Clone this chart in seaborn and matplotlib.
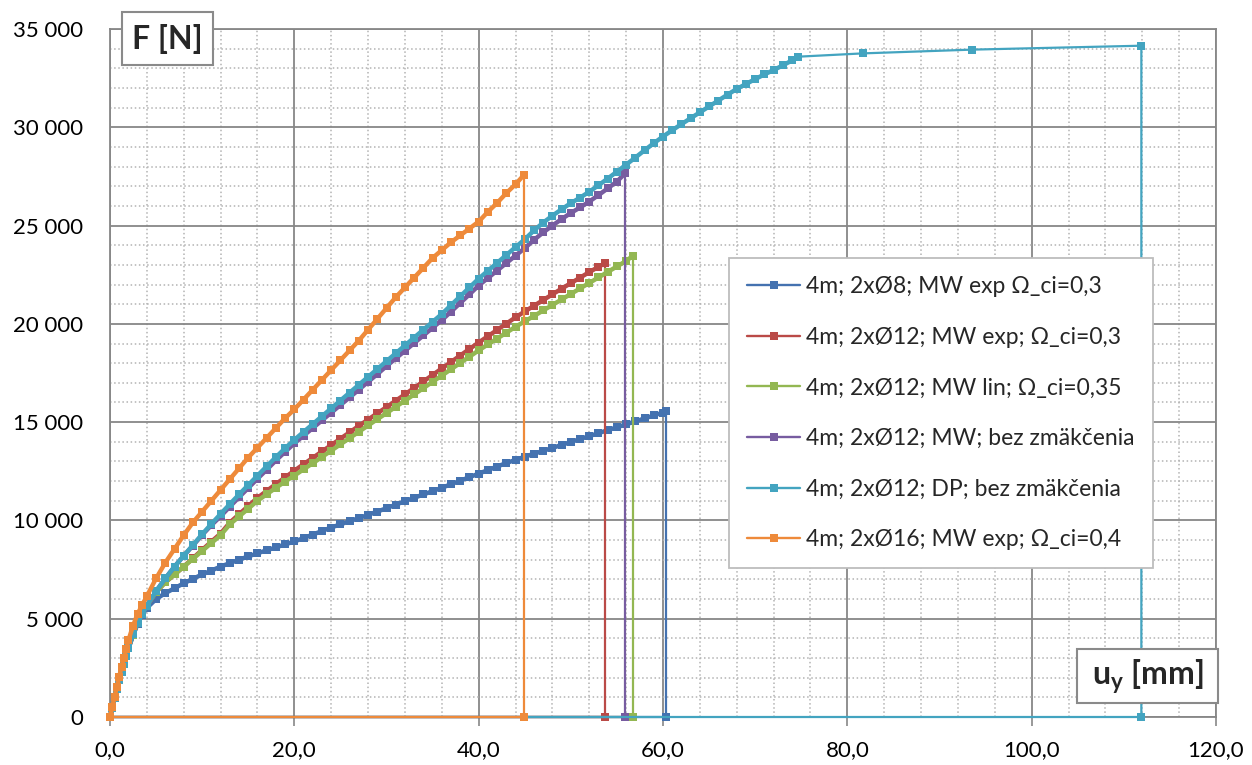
import matplotlib
matplotlib.use("Agg")
import matplotlib.pyplot as plt
import seaborn as sns
import pandas as pd
from matplotlib.lines import Line2D
from matplotlib.patches import Rectangle
from matplotlib.ticker import FixedLocator, FixedFormatter, MultipleLocator

# ---------------- data ----------------
labels = [
    "4m; 2xØ8; MW exp Ω_ci=0,3",
    "4m; 2xØ12; MW exp; Ω_ci=0,3",
    "4m; 2xØ12; MW lin; Ω_ci=0,35",
    "4m; 2xØ12; MW; bez zmäkčenia",
    "4m; 2xØ12; DP; bez zmäkčenia",
    "4m; 2xØ16; MW exp; Ω_ci=0,4",
]
colors = ["#4472B0", "#BA4A47", "#93B752", "#775CA0", "#43A4C0", "#EE8A3A"]

# displacement positions (mm) at which the curves were read
u_grid = [0, 0.25, 0.5, 0.75, 1, 1.25, 1.5, 1.75, 2, 2.5, 3, 3.5] + list(range(4, 75))

# 2xØ8 MW exp
tail_b8 = [60.3]
F_b8 = [0, 480, 960, 1420, 1870, 2300, 2720, 3120, 3500, 4150, 4750, 5200,
        5550, 6000, 6300, 6550, 6800, 7030, 7250, 7450, 7650, 7830, 8000, 8170,
        8330, 8480, 8630, 8780, 8930, 9100, 9280, 9460, 9640, 9800, 9960, 10120,
        10280, 10450, 10620, 10800, 10980, 11150, 11320, 11490, 11660, 11840,
        12020, 12200, 12380, 12560, 12740, 12920, 13080, 13240, 13390, 13540,
        13690, 13840, 13990, 14140, 14290, 14440, 14590, 14740, 14890, 15040,
        15190, 15340, 15490, 15580]

# 2xØ12 MW exp
tail_r12 = [53.7]
F_r12 = [0, 480, 960, 1420, 1870, 2300, 2720, 3120, 3500, 4180, 4780, 5280,
         5650, 6350, 6850, 7250, 7650, 8080, 8500, 8920, 9330, 9890, 10310,
         10730, 11150, 11500, 11850, 12190, 12530, 12860, 13180, 13510, 13830,
         14160, 14480, 14810, 15130, 15450, 15760, 16090, 16410, 16740, 17070,
         17400, 17730, 18060, 18390, 18720, 19050, 19370, 19690, 20010, 20330,
         20630, 20920, 21210, 21500, 21790, 22070, 22350, 22630, 22900, 23080]

# 2xØ12 MW lin
tail_g12 = [56.7]
F_g12 = [0, 480, 960, 1420, 1870, 2300, 2720, 3120, 3500, 4180, 4780, 5280,
         5650, 6350, 6850, 7250, 7650, 8050, 8450, 8850, 9250, 9800, 10200,
         10600, 11000, 11330, 11660, 11980, 12280, 12600, 12910, 13230, 13550,
         13870, 14190, 14510, 14830, 15150, 15460, 15780, 16090, 16410, 16730,
         17050, 17370, 17690, 18010, 18330, 18650, 18950, 19250, 19550, 19850,
         20130, 20400, 20680, 20960, 21240, 21520, 21800, 22080, 22360, 22640,
         22920, 23200, 23450]

# 2xØ12 MW bez zmäkčenia
tail_p12 = [55.9]
F_p12 = [0, 480, 960, 1420, 1870, 2300, 2720, 3120, 3500, 4200, 4800, 5250,
         5650, 6400, 7050, 7650, 8200, 8720, 9260, 9760, 10210, 10700, 11180,
         11650, 12120, 12580, 13050, 13490, 13920, 14310, 14700, 15090, 15480,
         15870, 16260, 16650, 17050, 17440, 17850, 18240, 18630, 19020, 19410,
         19800, 20190, 20620, 21060, 21500, 21950, 22330, 22710, 23090, 23470,
         23850, 24270, 24650, 25000, 25330, 25640, 25920, 26220, 26550, 26890,
         27240, 27660]

# 2xØ12 DP bez zmäkčenia (dense part up to 74.6 mm, then three sparse points)
tail_c12 = [74.6, 81.7, 93.5, 111.9]
F_c12 = [0, 480, 960, 1420, 1870, 2300, 2720, 3120, 3500, 4200, 4800, 5250,
         5650, 6400, 7050, 7650, 8200, 8750, 9300, 9820, 10330, 10830, 11320,
         11800, 12280, 12750, 13220, 13670, 14100, 14500, 14900, 15300, 15700,
         16100, 16500, 16900, 17300, 17700, 18100, 18500, 18900, 19300, 19700,
         20100, 20500, 20950, 21400, 21850, 22300, 22700, 23100, 23500, 23900,
         24300, 24750, 25150, 25500, 25830, 26140, 26420, 26720, 27050, 27390,
         27740, 28100, 28460, 28830, 29190, 29530, 29850, 30160, 30460, 30760,
         31060, 31360, 31660, 31950, 32200, 32450, 32690, 32910, 33150, 33400,
         33590, 33760, 33950, 34150]

# 2xØ16 MW exp
tail_o16 = [44.9]
F_o16 = [0, 520, 1040, 1550, 2050, 2550, 3000, 3450, 3900, 4650, 5250, 5700,
         6150, 7050, 7850, 8550, 9250, 9900, 10450, 11000, 11550, 12100, 12650,
         13200, 13700, 14200, 14700, 15200, 15650, 16150, 16650, 17150, 17650,
         18150, 18650, 19150, 19700, 20250, 20800, 21350, 21850, 22350, 22850,
         23350, 23750, 24150, 24500, 24850, 25200, 25700, 26150, 26650, 27100,
         27570]

series_F = [F_b8, F_r12, F_g12, F_p12, F_c12, F_o16]
series_tail = [tail_b8, tail_r12, tail_g12, tail_p12, tail_c12, tail_o16]

x_ticks = [0, 20, 40, 60, 80, 100, 120]
x_tick_labels = ["0,0", "20,0", "40,0", "60,0", "80,0", "100,0", "120,0"]
y_ticks = [0, 5000, 10000, 15000, 20000, 25000, 30000, 35000]
y_tick_labels = ["0", "5 000", "10 000", "15 000", "20 000", "25 000", "30 000", "35 000"]

# ---------------- build long tables ----------------
curve_rows, thin_rows, n_tail = [], [], {}
for lab, F, tail in zip(labels, series_F, series_tail):
    n_dense = len(F) - len(tail)
    u = u_grid[:n_dense] + tail
    # dense, densely-marked part of the curve (up to first tail point)
    for i in range(n_dense + 1):
        curve_rows.append({"series": lab, "u": u[i], "F": F[i], "step": i})
    # sparse tail, vertical drop to zero, back to the origin
    tu = u[n_dense:] + [u[-1], 0]
    tF = F[n_dense:] + [0, 0]
    for i, (a, b) in enumerate(zip(tu, tF)):
        thin_rows.append({"series": lab, "u": a, "F": b, "step": i})
    n_tail[lab] = len(tail)
df_curve = pd.DataFrame(curve_rows)
df_thin = pd.DataFrame(thin_rows)

# ---------------- style ----------------
sns.set_style("white")
plt.rcParams["font.family"] = ["Lato", "DejaVu Sans"]
plt.rcParams["mathtext.fontset"] = "custom"
plt.rcParams["mathtext.rm"] = "Lato"
plt.rcParams["mathtext.bf"] = "Lato:bold"

W, H = 1252, 765
fig = plt.figure(figsize=(W / 100, H / 100), dpi=100)
ax = fig.add_axes([110 / W, 1 - 717 / H, (1216 - 110) / W, (717 - 29) / H])

MS = 6.0
for k, lab in enumerate(labels):
    sub_t = df_thin[df_thin["series"] == lab]
    sns.lineplot(data=sub_t, x="u", y="F", color=colors[k], sort=False,
                 estimator=None, ax=ax, legend=False, marker="s",
                 markevery=list(range(1, n_tail[lab] + 1)),
                 markersize=MS, markeredgewidth=0, linewidth=1.6, clip_on=False,
                 zorder=3 + k * 0.2)
    sub_c = df_curve[df_curve["series"] == lab]
    sns.lineplot(data=sub_c, x="u", y="F", color=colors[k], sort=False,
                 estimator=None, ax=ax, legend=False, marker="s",
                 markersize=MS, markeredgewidth=0, linewidth=3.2, clip_on=False,
                 zorder=3.1 + k * 0.2)

ax.set_xlim(0, 120)
ax.set_ylim(0, 35000)
ax.xaxis.set_major_locator(FixedLocator(x_ticks))
ax.xaxis.set_major_formatter(FixedFormatter(x_tick_labels))
ax.yaxis.set_major_locator(FixedLocator(y_ticks))
ax.yaxis.set_major_formatter(FixedFormatter(y_tick_labels))
ax.xaxis.set_minor_locator(MultipleLocator(4))
ax.yaxis.set_minor_locator(MultipleLocator(1000))
ax.set_axisbelow(True)
ax.grid(which="major", color="#878787", lw=1.3, ls="-")
ax.grid(which="minor", color="#b3b3b3", lw=1.1, ls=(0, (1, 1.7)))
ax.tick_params(which="minor", length=0)
ax.tick_params(axis="x", which="major", length=6.5, width=1.2, color="#878787",
               pad=10, labelsize=16, labelcolor="black", direction="out", bottom=True)
ax.tick_params(axis="y", which="major", length=0, pad=19, labelsize=16,
               labelcolor="black")
for sp in ax.spines.values():
    sp.set_color("#878787")
    sp.set_linewidth(1.3)
ax.set_xlabel("")
ax.set_ylabel("")

handles = [Line2D([], [], color=c, marker="s", markersize=5.5, markeredgewidth=0,
                  lw=1.7) for c in colors]
leg = ax.legend(handles, labels, loc="upper left",
                bbox_to_anchor=(729 / W, 1 - 258 / H), bbox_transform=fig.transFigure,
                borderaxespad=0, fontsize=16.5, handlelength=2.3, handletextpad=0.28,
                labelspacing=1.29, borderpad=0.8, frameon=True, fancybox=False,
                edgecolor="#bdbdbd", framealpha=1, facecolor="white")
leg.get_frame().set_linewidth(1.3)
leg.set_zorder(10)

# axis title boxes
fig.add_artist(Rectangle((121.7 / W, 1 - 65 / H), 91 / W, 53.3 / H,
                         transform=fig.transFigure, fc="white", ec="#8a8a8a",
                         lw=1.5, zorder=5))
fig.text(167.2 / W, 1 - 38.5 / H, "F [N]", ha="center", va="center",
         fontsize=23, fontweight="bold", zorder=6)
fig.add_artist(Rectangle((1077.3 / W, 1 - 703.3 / H), 141 / W, 54 / H,
                         transform=fig.transFigure, fc="white", ec="#8a8a8a",
                         lw=1.5, zorder=5))
fig.text(1147.8 / W, 1 - 676.5 / H, r"u$_\mathbf{y}$ [mm]", ha="center",
         va="center", fontsize=23, fontweight="bold", zorder=6)

fig.savefig("out.png", dpi=100)
